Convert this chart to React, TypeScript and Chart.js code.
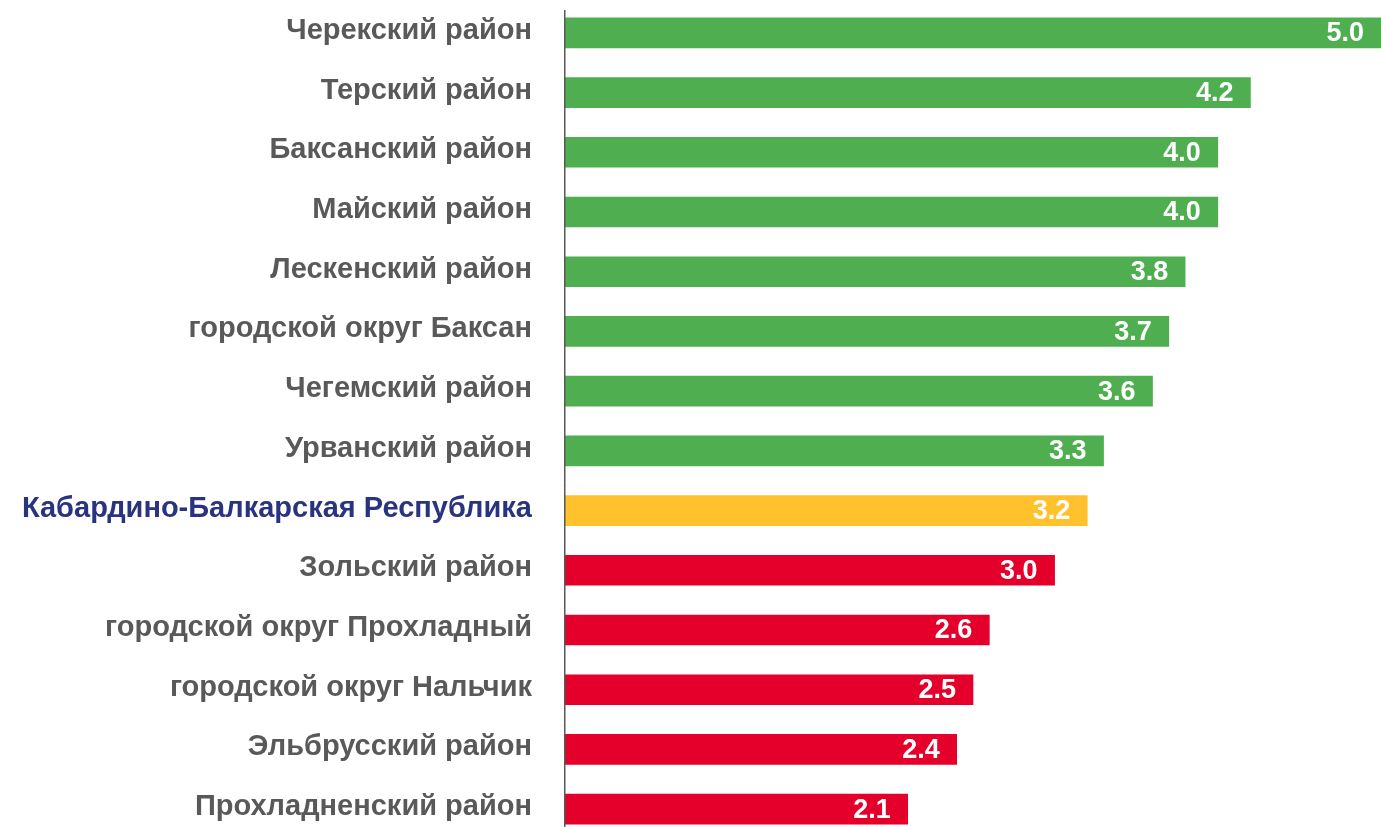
import React, { useEffect, useRef } from "react";
import { Chart, registerables } from "chart.js";

Chart.register(...registerables);

const categories: string[] = [
  "Черекский район",
  "Терский район",
  "Баксанский район",
  "Майский район",
  "Лескенский район",
  "городской округ Баксан",
  "Чегемский район",
  "Урванский район",
  "Кабардино-Балкарская Республика",
  "Зольский район",
  "городской округ Прохладный",
  "городской округ Нальчик",
  "Эльбрусский район",
  "Прохладненский район",
];

const values: number[] = [5.0, 4.2, 4.0, 4.0, 3.8, 3.7, 3.6, 3.3, 3.2, 3.0, 2.6, 2.5, 2.4, 2.1];

const GREEN = "#4FAF50";
const YELLOW = "#FFC22D";
const RED = "#E4002B";

const barColors: string[] = [
  GREEN, GREEN, GREEN, GREEN, GREEN, GREEN, GREEN, GREEN,
  YELLOW,
  RED, RED, RED, RED, RED,
];

const labelColors: string[] = categories.map((c) =>
  c === "Кабардино-Балкарская Республика" ? "#2A3380" : "#595959"
);

const VALUE_FONT = "bold 27px 'Liberation Sans', Arial, sans-serif";
const LABEL_FONT = "bold 29px 'Liberation Sans', Arial, sans-serif";

const customPlugin = {
  id: "customDraw",
  afterDatasetsDraw(chart: any) {
    const ctx = chart.ctx;
    const meta = chart.getDatasetMeta(0);
    const area = chart.chartArea;
    ctx.save();
    // value labels
    ctx.font = VALUE_FONT;
    ctx.fillStyle = "#FFFFFF";
    ctx.textAlign = "right";
    ctx.textBaseline = "middle";
    meta.data.forEach((bar: any, i: number) => {
      ctx.fillText(values[i].toFixed(1), bar.x - 17, bar.y + 1);
    });
    // category labels
    ctx.font = LABEL_FONT;
    const yScale = chart.scales.y;
    categories.forEach((c, i) => {
      const y = yScale.getPixelForValue(i);
      ctx.fillStyle = labelColors[i];
      ctx.fillText(c, area.left - 33, y - 2);
    });
    // axis line
    ctx.strokeStyle = "#595959";
    ctx.lineWidth = 1.5;
    ctx.beginPath();
    ctx.moveTo(area.left - 0.25, 10);
    ctx.lineTo(area.left - 0.25, chart.height);
    ctx.stroke();
    ctx.restore();
  },
};

export default function App() {
  const ref = useRef<HTMLCanvasElement | null>(null);

  useEffect(() => {
    if (!ref.current) return;
    const chart = new Chart(ref.current, {
      type: "bar",
      data: {
        labels: categories,
        datasets: [
          {
            data: values,
            backgroundColor: barColors,
            borderWidth: 0,
            barThickness: 30,
          },
        ],
      },
      options: {
        indexAxis: "y",
        animation: false,
        responsive: false,
        maintainAspectRatio: false,
        layout: { padding: { left: 565, top: 3, right: 0, bottom: 0 } },
        plugins: {
          legend: { display: false },
          tooltip: { enabled: false },
        },
        scales: {
          x: { display: false, min: 0, max: 5 },
          y: { display: false },
        },
      },
      plugins: [customPlugin],
    });
    return () => chart.destroy();
  }, []);

  return (
    <div
      style={{
        position: "fixed",
        left: 0,
        top: 0,
        width: 1381,
        height: 827,
        overflow: "hidden",
        background: "#FFFFFF",
      }}
    >
      <canvas ref={ref} width={1381} height={839} style={{ display: "block" }} />
    </div>
  );
}
